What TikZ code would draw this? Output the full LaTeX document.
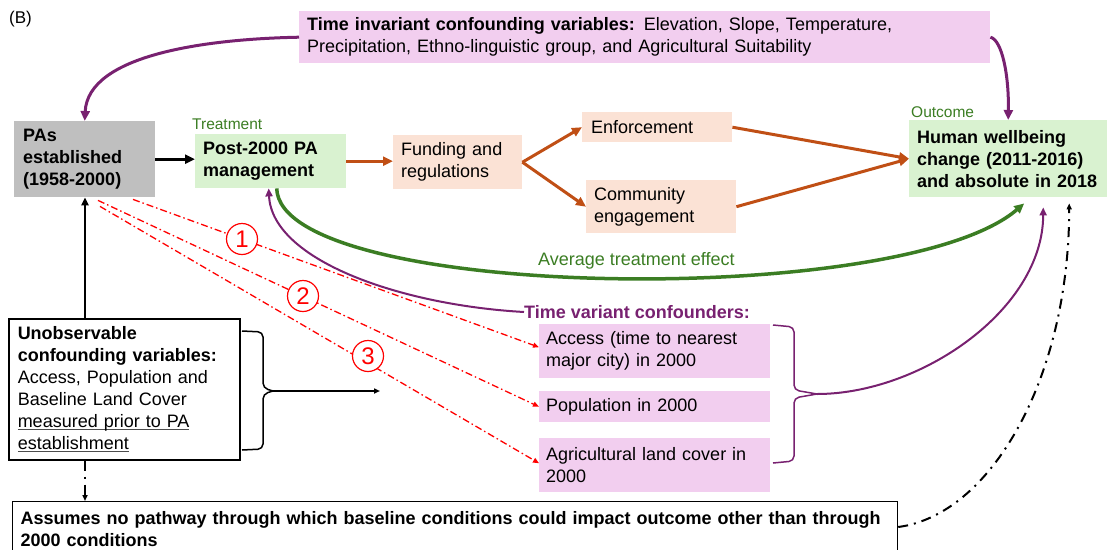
\documentclass[tikz,border=0pt]{standalone}
\usepackage{fontspec}
\setmainfont{Liberation Sans}
\usetikzlibrary{arrows.meta,calc}

\definecolor{pinkfill}{HTML}{F2CEEF}
\definecolor{grayfill}{HTML}{BFBFBF}
\definecolor{greenfill}{HTML}{D9F2D0}
\definecolor{peachfill}{HTML}{FBE2D5}
\definecolor{orangeline}{HTML}{C04F15}
\definecolor{plum}{HTML}{782170}
\definecolor{leaf}{HTML}{3B7D23}

% underline at a fixed depth below the baseline
\newcommand{\ulfix}[1]{\leavevmode\setbox0\hbox{#1}\rlap{\textcolor{black!70}{\rule[-3pt]{\wd0}{0.8pt}}}\box0}

\tikzset{
  txt/.style={font=\fontsize{18}{22}\selectfont},
  boxbase/.style={txt, anchor=north west, align=left, inner xsep=8pt, inner ysep=0pt},
  pinkbox/.style={boxbase, fill=pinkfill},
  peachbox/.style={boxbase, fill=peachfill},
  greenbox/.style={boxbase, fill=greenfill},
  graybox/.style={boxbase, fill=grayfill},
  tag/.style={inner sep=0pt, anchor=west},
  numc/.style={circle, draw=red, fill=white, line width=1.2pt, minimum size=31pt, inner sep=0pt,
    text=red, font=\fontsize{24}{24}\selectfont},
  bigtip/.style={-{Triangle[length=10pt,width=9pt]}},
  midtip/.style={-{Triangle[length=8pt,width=7pt]}},
  smalltip/.style={-{Triangle[length=6pt,width=5pt]}},
  blackflow/.style={bigtip, line width=3pt, black},
  orangeflow/.style={bigtip, line width=3pt, orangeline},
  plumthick/.style={bigtip, line width=3pt, plum},
  plumthin/.style={midtip, line width=2pt, plum},
  ateline/.style={bigtip, line width=3.5pt, leaf},
  reddash/.style={smalltip, line width=1.3pt, red, dash pattern=on 7pt off 3pt on 1.5pt off 3pt},
  blackdash/.style={smalltip, line width=2pt, black, dash pattern=on 10pt off 6pt on 2pt off 6pt},
  bracket/.style={line width=1.5pt, rounded corners=5pt},
}

\begin{document}
\begin{tikzpicture}[x=1pt,y=-1pt]
\useasboundingbox (0,0) rectangle (1107,549);

% panel tag
\node[tag, font=\fontsize{17}{20}\selectfont] (tagB) at (9,19) {(B)};

% boxes
\node[pinkbox, text width=675pt, minimum height=52pt] (tinv) at (299,11)
  {\textbf{Time invariant confounding variables:} Elevation, Slope, Temperature,\\Precipitation, Ethno-linguistic group, and Agricultural Suitability};
\node[graybox, inner xsep=9pt, text width=123pt, minimum height=76pt, font=\fontsize{18}{22}\selectfont\bfseries] (pa) at (14,121)
  {PAs\\established\\(1958-2000)};
\node[greenbox, text width=135pt, minimum height=54pt, font=\fontsize{18}{22}\selectfont\bfseries] (post) at (195,134)
  {Post-2000 PA\\management};
\node[peachbox, text width=113pt, minimum height=54pt] (fund) at (393,135) {Funding and\\regulations};
\node[peachbox, inner xsep=9pt, text width=132pt, minimum height=30pt] (enf) at (582,112) {Enforcement};
\node[peachbox, text width=134pt, minimum height=53pt] (comm) at (586,180) {Community\\engagement};
\node[greenbox, text width=182pt, minimum height=77pt, font=\fontsize{18}{22}\selectfont\bfseries] (outc) at (909,120)
  {Human wellbeing\\change (2011-2016)\\and absolute in 2018};
\node[pinkbox, inner xsep=7pt, text width=217pt, minimum height=54pt] (acc) at (539,324) {Access (time to nearest\\major city) in 2000};
\node[pinkbox, inner xsep=7pt, text width=217pt, minimum height=31pt] (pop) at (539,391) {Population in 2000};
\node[pinkbox, inner xsep=7pt, text width=217pt, minimum height=54pt] (agr) at (539,438) {Agricultural land cover in\\2000};
\node[boxbase, draw=black, line width=1.5pt, inner xsep=9pt, text width=213pt, minimum height=141pt] (unobs) at (8,318)
  {\textbf{Unobservable}\\\textbf{confounding variables:}\\Access, Population and\\Baseline Land Cover\\\ulfix{measured prior to PA}\\\ulfix{establishment}};
\node[boxbase, draw=black, line width=1.2pt, inner ysep=9.5pt, text width=869pt, text depth=40pt,
  font=\fontsize{18}{22}\selectfont\bfseries] (bot) at (12,501)
  {Assumes no pathway through which baseline conditions could impact outcome other than through\\2000 conditions};

% labels
\node[tag, txt, font=\fontsize{15.5}{18}\selectfont, text=leaf] (treat) at (192,124) {Treatment};
\node[tag, txt, font=\fontsize{15.5}{18}\selectfont, text=leaf] (outlbl) at (911,112) {Outcome};
\node[tag, txt, text=leaf] (ate) at (538,261) {Average treatment effect};
\node[tag, txt, font=\fontsize{18}{22}\selectfont\bfseries, text=plum] (tvlbl) at (524,312) {Time variant confounders:};

% named end points
\coordinate (ateEnd) at ($(outc.south)+(16,6)$);
\coordinate (tvEnd) at ($(outc.south)+(35,10)$);
\coordinate (asmEnd) at ($(outc.south)+(61,6)$);
\coordinate (r1) at ($(pa.south west)+(119,2)$);
\coordinate (r2) at ($(pa.south west)+(84,3)$);
\coordinate (r3) at ($(pa.south west)+(86,9)$);
\coordinate (uTop) at ($(unobs.north west)+(77,0)$);
\coordinate (uBot) at ($(unobs.south west)+(77,0)$);
\coordinate (lbTip) at (273,391);
\coordinate (lbEnd) at (380,391);
\coordinate (rbTip) at (817,394);

% main causal chain
\draw[blackflow] (pa.east) -- (pa.east -| post.west);
\draw[orangeflow] (post.east) -- (post.east -| fund.west);
\draw[orangeflow] (fund.east) -- (enf.west);
\draw[orangeflow] (fund.east) -- (comm.west);
\draw[orangeflow] (enf.east) -- (outc.west);
\draw[orangeflow] (comm.east) -- (outc.west);

% time invariant confounders
\draw[plumthick] (tinv.west) .. controls (205,39) and (88,55) .. (pa.north);
\draw[plumthick] (tinv.east) .. controls (1002,40) and (1009,75) .. (outc.north);

% average treatment effect
\draw[ateline] ([xshift=6pt]post.south) .. controls (280,300) and (900,310) .. (ateEnd);

% time variant confounders
\draw[plumthin] (tvlbl.west) .. controls (400,305) and (272,260) .. ([xshift=-2pt]post.south);
\draw[bracket, plum] (773,325) -- (794,327) -- (794,390) -- (rbTip);
\draw[bracket, plum] (rbTip) -- (794,398) -- (794,461) -- (773,463);
\draw[plumthin] (rbTip) .. controls (920,394) and (1043,310) .. (tvEnd);

% pathways from baseline to 2000 conditions
\draw[reddash] (r1) -- ([yshift=4pt]acc.west);
\draw[reddash] (r2) -- (pop.west);
\draw[reddash] (r3) -- ([yshift=2pt]agr.west);
\node[numc] (c1) at (242,239) {1};
\node[numc] (c2) at (303,296) {2};
\node[numc] (c3) at (368,356) {3};

% unobservable confounders
\draw[midtip, line width=2pt] (uTop) -- (uTop |- pa.south);
\draw[bracket] (242,331) -- (263,332) -- (263,388) -- (lbTip);
\draw[bracket] (lbTip) -- (263,394) -- (263,449) -- (242,450);
\draw[smalltip, line width=1.5pt] (lbTip) -- (lbEnd);
\draw[blackdash] (uBot) -- (uBot |- bot.north);
\draw[blackdash] ([yshift=-26pt]bot.north east) .. controls (990,515) and (1069,380) .. (asmEnd);

\end{tikzpicture}
\end{document}
